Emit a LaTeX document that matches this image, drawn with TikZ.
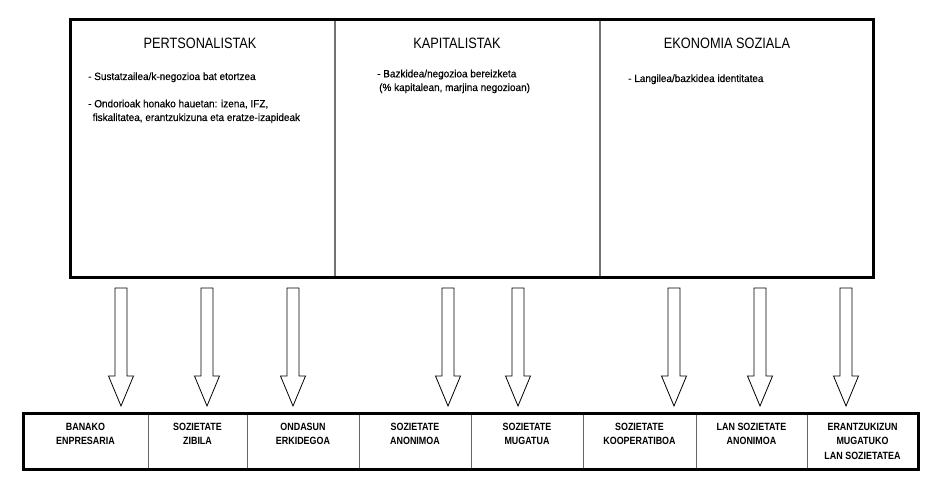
\documentclass[tikz,border=0pt]{standalone}
\usepackage{fontspec}
\setmainfont{Liberation Sans}[FakeStretch=0.95, FakeBold=0.4]
\newfontfamily\narrowfont{Liberation Sans}[FakeStretch=0.85]
\usetikzlibrary{positioning, fit, calc}

\begin{document}
\begin{tikzpicture}[x=1pt, y=-1pt,
  column/.style={rectangle, draw=black!55, line width=1.5pt, outer sep=0pt, inner sep=0pt,
               minimum height=258pt, anchor=north west},
  frame/.style={draw=black, line width=3pt, inner sep=0pt, fit=#1},
  heading/.style={anchor=base, inner sep=0pt, font=\narrowfont\fontsize{15}{18}\selectfont},
  bullet/.style={anchor=base west, align=left, inner sep=0pt, font=\fontsize{10.5}{13.7}\selectfont},
  cell/.style={rectangle, draw=black!60, line width=1pt, outer sep=0pt, inner sep=0pt,
               minimum height=56pt, align=center, font=\narrowfont\bfseries\fontsize{10.5}{14.5}\selectfont},
  blockarr/.style={draw=black, line width=0.8pt, fill=white, line join=miter}
]
\useasboundingbox (0,0) rectangle (932,486);

% upper table
\node[column, minimum width=265pt] (p1) at (70,20) {};
\node[column, minimum width=265pt, right=0pt of p1] (p2) {};
\node[column, minimum width=273pt, right=0pt of p2] (p3) {};
\node[frame={(p1)(p3)}] (top) {};

\node[heading] (t1) at (200,49) {PERTSONALISTAK};
\node[heading] (t2) at (457,49) {KAPITALISTAK};
\node[heading] (t3) at (727,49) {EKONOMIA SOZIALA};

\node[bullet] (b1) at (88,80) {- Sustatzailea/k-negozioa bat etortzea};
\node[bullet] (b2) at (88,121) {- Ondorioak honako hauetan: izena, IFZ,\\\hspace{4.5pt}fiskalitatea, erantzukizuna eta eratze-izapideak};
\node[bullet] (b3) at (377,91) {- Bazkidea/negozioa bereizketa\\\hspace{2pt}(\% kapitalean, marjina negozioan)};
\node[bullet] (b4) at (628,82) {- Langilea/bazkidea identitatea};

% lower table
\node[cell, minimum width=125pt, anchor=north west] (c1) at (23,413) {BANAKO\\ENPRESARIA\\\mbox{}};
\node[cell, minimum width=99pt, right=0pt of c1] (c2) {SOZIETATE\\ZIBILA\\\mbox{}};
\node[cell, minimum width=112pt, right=0pt of c2] (c3) {ONDASUN\\ERKIDEGOA\\\mbox{}};
\node[cell, minimum width=112pt, right=0pt of c3] (c4) {SOZIETATE\\ANONIMOA\\\mbox{}};
\node[cell, minimum width=112pt, right=0pt of c4] (c5) {SOZIETATE\\MUGATUA\\\mbox{}};
\node[cell, minimum width=113pt, right=0pt of c5] (c6) {SOZIETATE\\KOOPERATIBOA\\\mbox{}};
\node[cell, minimum width=111pt, right=0pt of c6] (c7) {LAN SOZIETATE\\ANONIMOA\\\mbox{}};
\node[cell, minimum width=111pt, right=0pt of c7] (c8) {ERANTZUKIZUN\\MUGATUKO\\LAN SOZIETATEA};
\node[frame={(c1)(c8)}] (bottom) {};

% block arrows
\foreach \i/\x in {1/121,2/207,3/293,4/448,5/518,6/674,7/760,8/846}{
  \coordinate (s\i) at (\x,288);
  \coordinate (e\i) at (\x,406);
  \draw[blockarr] ($(s\i)+(-6,0)$) -- ($(s\i)+(6,0)$) -- ($(e\i)+(6,-30)$) -- ($(e\i)+(12.5,-30)$)
    -- (e\i) -- ($(e\i)+(-12.5,-30)$) -- ($(e\i)+(-6,-30)$) -- cycle;
}
\end{tikzpicture}
\end{document}
